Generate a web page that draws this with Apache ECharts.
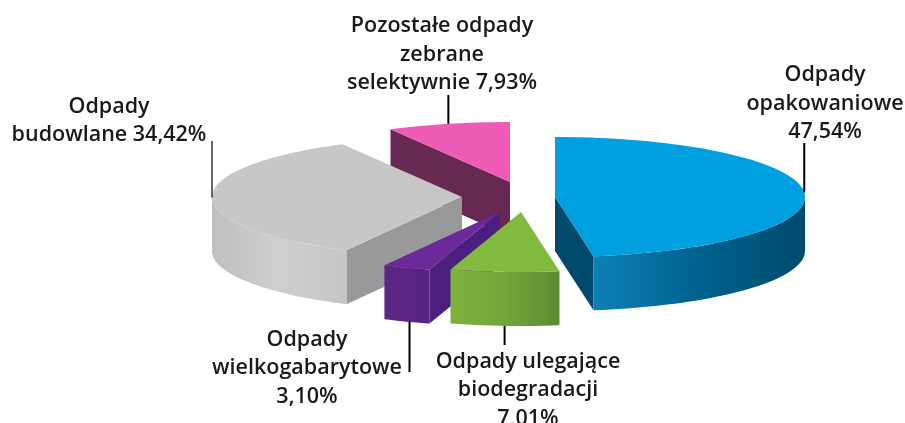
<!DOCTYPE html>
<html><head><meta charset="utf-8">
<style>html,body{margin:0;padding:0;background:#fff}#c{width:905px;height:423px}</style>
<script src="https://cdn.jsdelivr.net/npm/echarts@6/dist/echarts.min.js"></script>
</head><body><div id="c"></div>
<script>
// Data, clockwise from twelve o'clock
const categories = ['Odpady opakowaniowe','Odpady ulegające biodegradacji','Odpady wielkogabarytowe','Odpady budowlane','Pozostałe odpady zebrane selektywnie'];
const shares = [47.54, 7.01, 3.10, 34.42, 7.93];
const labelTemplates = ['Odpady\nopakowaniowe\n{v}','Odpady ulegające\nbiodegradacji\n{v}','Odpady\nwielkogabarytowe\n{v}','Odpady\nbudowlane {v}','Pozostałe odpady\nzebrane\nselektywnie {v}'];

// Layout and style
const RX = 250, RY = 60, DEPTH = 54;
const apexX = [555, 521, 500, 462, 510];
const apexY = [197, 212, 212, 197, 182];
const labelX = [825, 528, 307, 109, 442];
const labelY = [103.5, 390, 368, 121, 54.5];
const leaderEnd = [143, 345, 372, 141, 95];
const leaderShift = [0, 0, 3, 0, 0];
const leaderWidth = [2, 2, 2, 1.5, 2];
const layer = [3, 5, 4, 2, 1];
const topColor = ['#009fdf','#82ba3f','#6a2a9a','#c7c7c7','#ee5cb8'];
const sideColor = ['#004a6b','#5e8a33','#4c1f7e','#999999','#672852'];
const wallStops = [
  ['#0d80b6','#00628f','#004a6d'],
  ['#80b23e','#74a539','#5e8a33'],
  ['#5d2585','#5d2585','#57237f'],
  ['#bfbfbf','#cfcfcf','#c6c6c6'],
  ['#672852','#672852','#672852']
];
const leaderColor = ['#000','#000','#000','#333','#000'];
const FONT = '600 21.5px "Open Sans", "Noto Sans", sans-serif';

const total = shares.reduce((a, b) => a + b, 0);
const rad = d => d * Math.PI / 180;
function polar(i, deg, dy) {
  return [apexX[i] + RX * Math.sin(rad(deg)), apexY[i] - RY * Math.cos(rad(deg)) + (dy || 0)];
}
function arc(i, a, b, dy) {
  const pts = [], n = Math.max(2, Math.ceil(Math.abs(b - a) / 2));
  for (let k = 0; k <= n; k++) pts.push(polar(i, a + (b - a) * k / n, dy));
  return pts;
}
function renderItem(params, api) {
  const i = params.dataIndex;
  let start = 0;
  for (let k = 0; k < i; k++) start += shares[k] / total * 360;
  const end = start + api.value(0) / total * 360;
  const mid = (start + end) / 2;
  const apex = [apexX[i], apexY[i]];
  const apexLow = [apexX[i], apexY[i] + DEPTH];
  const z = layer[i] * 10;
  const kids = [];
  // radial wall facing the viewer
  const wallDeg = (end > 90 && end <= 180) ? end : (start >= 180) ? start : null;
  if (wallDeg !== null) {
    kids.push({type:'polygon', z2:z, shape:{points:[apex, polar(i, wallDeg), polar(i, wallDeg, DEPTH), apexLow]}, style:{fill:sideColor[i]}});
  }
  // curved outer wall, front half only
  const a = Math.max(start, 90), b = Math.min(end, 270);
  if (b > a) {
    const stops = wallStops[i];
    kids.push({type:'polygon', z2:z + 1, shape:{points:arc(i, a, b).concat(arc(i, b, a, DEPTH))},
      style:{fill:new echarts.graphic.LinearGradient(0,0,1,0,[{offset:0,color:stops[0]},{offset:0.5,color:stops[1]},{offset:1,color:stops[2]}])}});
  }
  // top face
  kids.push({type:'polygon', z2:z + 2, shape:{points:[apex].concat(arc(i, start, end))}, style:{fill:topColor[i]}});
  // leader and label
  const anchor = polar(i, mid, leaderEnd[i] > apexY[i] ? DEPTH : 0);
  const lx = anchor[0] + leaderShift[i];
  kids.push({type:'line', z2:100, shape:{x1:lx, y1:anchor[1], x2:lx, y2:leaderEnd[i]}, style:{stroke:leaderColor[i], lineWidth:leaderWidth[i]}});
  kids.push({type:'text', z2:101, style:{
    text:labelTemplates[i].replace('{v}', api.value(0).toFixed(2).replace('.', ',') + '%'),
    x:labelX[i], y:labelY[i], align:'center', verticalAlign:'middle', font:FONT, lineHeight:28.5, fill:'#1a1a1a'}});
  return {type:'group', children:kids};
}
const chart = echarts.init(document.getElementById('c'), null, {renderer:'canvas'});
chart.setOption({
  animation:false,
  backgroundColor:'#fff',
  series:[{type:'custom', coordinateSystem:'none', silent:true, renderItem,
    encode:{value:0}, dimensions:['share'],
    data:shares.map((v, i) => ({name:categories[i], value:[v]}))}]
});
</script></body></html>
